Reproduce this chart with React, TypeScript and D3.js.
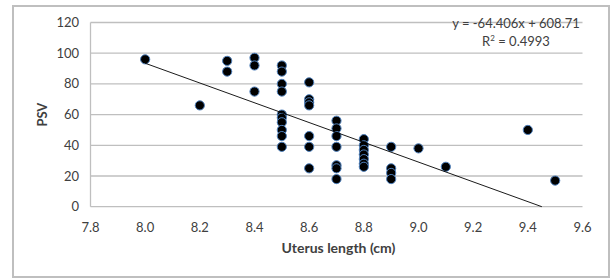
import { useEffect, useRef } from 'react';
import * as d3 from 'd3';

// uterus length (cm) per group, and the PSV readings measured at that length
const lengths = [8.0, 8.2, 8.3, 8.4, 8.5, 8.6, 8.7, 8.8, 8.9, 9.0, 9.1, 9.4, 9.5];
const psvByLength = [
  [96],
  [66],
  [95, 88],
  [97, 92, 75],
  [92, 88, 80, 75, 60, 58, 55, 50, 46, 39],
  [81, 70, 68, 66, 46, 39, 25],
  [56, 51, 46, 39, 27, 25, 18],
  [44, 40, 37, 34, 31, 28, 26],
  [39, 25, 22, 18],
  [38],
  [26],
  [50],
  [17],
];
const xTicks = [7.8, 8.0, 8.2, 8.4, 8.6, 8.8, 9.0, 9.2, 9.4, 9.6];
const yTicks = [0, 20, 40, 60, 80, 100, 120];
const slope = -64.406;
const intercept = 608.71;
const rSquared = 0.4993;

const FONT = 'Lato, Calibri, Carlito, sans-serif';

export default function App() {
  const svgRef = useRef<SVGSVGElement>(null);

  useEffect(() => {
    if (!svgRef.current) return;
    const width = 614;
    const height = 280;
    const margin = { top: 22.5, right: 31.5, bottom: 73.3, left: 90.5 };

    const svg = d3.select(svgRef.current);
    svg.selectAll('*').remove();
    svg.attr('width', width).attr('height', height);

    svg.append('rect')
      .attr('x', 0).attr('y', 0).attr('width', width).attr('height', height)
      .attr('fill', '#fff');

    // outer chart border
    svg.append('rect')
      .attr('x', 13).attr('y', 6)
      .attr('width', 596).attr('height', 271)
      .attr('fill', 'none')
      .attr('stroke', '#bfbfbf')
      .attr('stroke-width', 2);

    const x = d3.scaleLinear().domain([7.8, 9.6]).range([margin.left, width - margin.right]);
    const y = d3.scaleLinear().domain([0, 120]).range([height - margin.bottom, margin.top]);

    // gridlines
    svg.append('g')
      .selectAll('line')
      .data(yTicks)
      .join('line')
      .attr('x1', x(7.8)).attr('x2', x(9.6))
      .attr('y1', d => y(d)).attr('y2', d => y(d))
      .attr('stroke', '#bfbfbf')
      .attr('stroke-width', 1.3);

    // y axis line
    svg.append('line')
      .attr('x1', x(7.8)).attr('x2', x(7.8))
      .attr('y1', y(0)).attr('y2', y(120))
      .attr('stroke', '#bfbfbf')
      .attr('stroke-width', 1.3);

    svg.append('g')
      .selectAll('text')
      .data(yTicks)
      .join('text')
      .attr('x', 79)
      .attr('y', d => y(d) + 4.5)
      .attr('text-anchor', 'end')
      .attr('font-family', FONT)
      .attr('font-size', '13px')
      .attr('fill', '#404040')
      .text(d => d);

    svg.append('g')
      .selectAll('text')
      .data(xTicks)
      .join('text')
      .attr('x', d => x(d))
      .attr('y', 232)
      .attr('text-anchor', 'middle')
      .attr('font-family', FONT)
      .attr('font-size', '13px')
      .attr('fill', '#404040')
      .text(d => d3.format('.1f')(d));

    svg.append('text')
      .attr('x', x(8.7) + 2)
      .attr('y', 253)
      .attr('text-anchor', 'middle')
      .attr('font-family', FONT)
      .attr('font-size', '14px')
      .attr('font-weight', 'bold')
      .attr('fill', '#404040')
      .text('Uterus length (cm)');

    svg.append('text')
      .attr('transform', `translate(47,${y(60)}) rotate(-90)`)
      .attr('text-anchor', 'middle')
      .attr('font-family', FONT)
      .attr('font-size', '13px')
      .attr('font-weight', 'bold')
      .attr('fill', '#404040')
      .text('PSV');

    // points
    const points = lengths.flatMap((len, i) => psvByLength[i].map(v => ({ len, v })));
    svg.append('g')
      .selectAll('circle')
      .data(points)
      .join('circle')
      .attr('cx', d => x(d.len))
      .attr('cy', d => y(d.v))
      .attr('r', 4.6)
      .attr('fill', '#000')
      .attr('stroke', '#4f81bd')
      .attr('stroke-width', 1);

    // linear trend line, from first x to where it crosses zero
    const xEnd = -intercept / slope;
    svg.append('line')
      .attr('x1', x(8.0)).attr('y1', y(slope * 8.0 + intercept))
      .attr('x2', x(xEnd)).attr('y2', y(0))
      .attr('stroke', '#000')
      .attr('stroke-width', 0.9);

    svg.append('text')
      .attr('x', 516)
      .attr('y', 28)
      .attr('text-anchor', 'middle')
      .attr('font-family', FONT)
      .attr('font-size', '13px')
      .attr('fill', '#404040')
      .text(`y = ${slope}x + ${intercept}`);

    const r2 = svg.append('text')
      .attr('x', 516)
      .attr('y', 46)
      .attr('text-anchor', 'middle')
      .attr('font-family', FONT)
      .attr('font-size', '13px')
      .attr('fill', '#404040');
    r2.append('tspan').text('R');
    r2.append('tspan').attr('dy', -5).attr('font-size', '8px').text('2');
    r2.append('tspan').attr('dy', 5).text(` = ${rSquared}`);
  }, []);

  return <svg ref={svgRef} style={{ position: 'absolute', left: 0, top: 0, display: 'block' }} />;
}
